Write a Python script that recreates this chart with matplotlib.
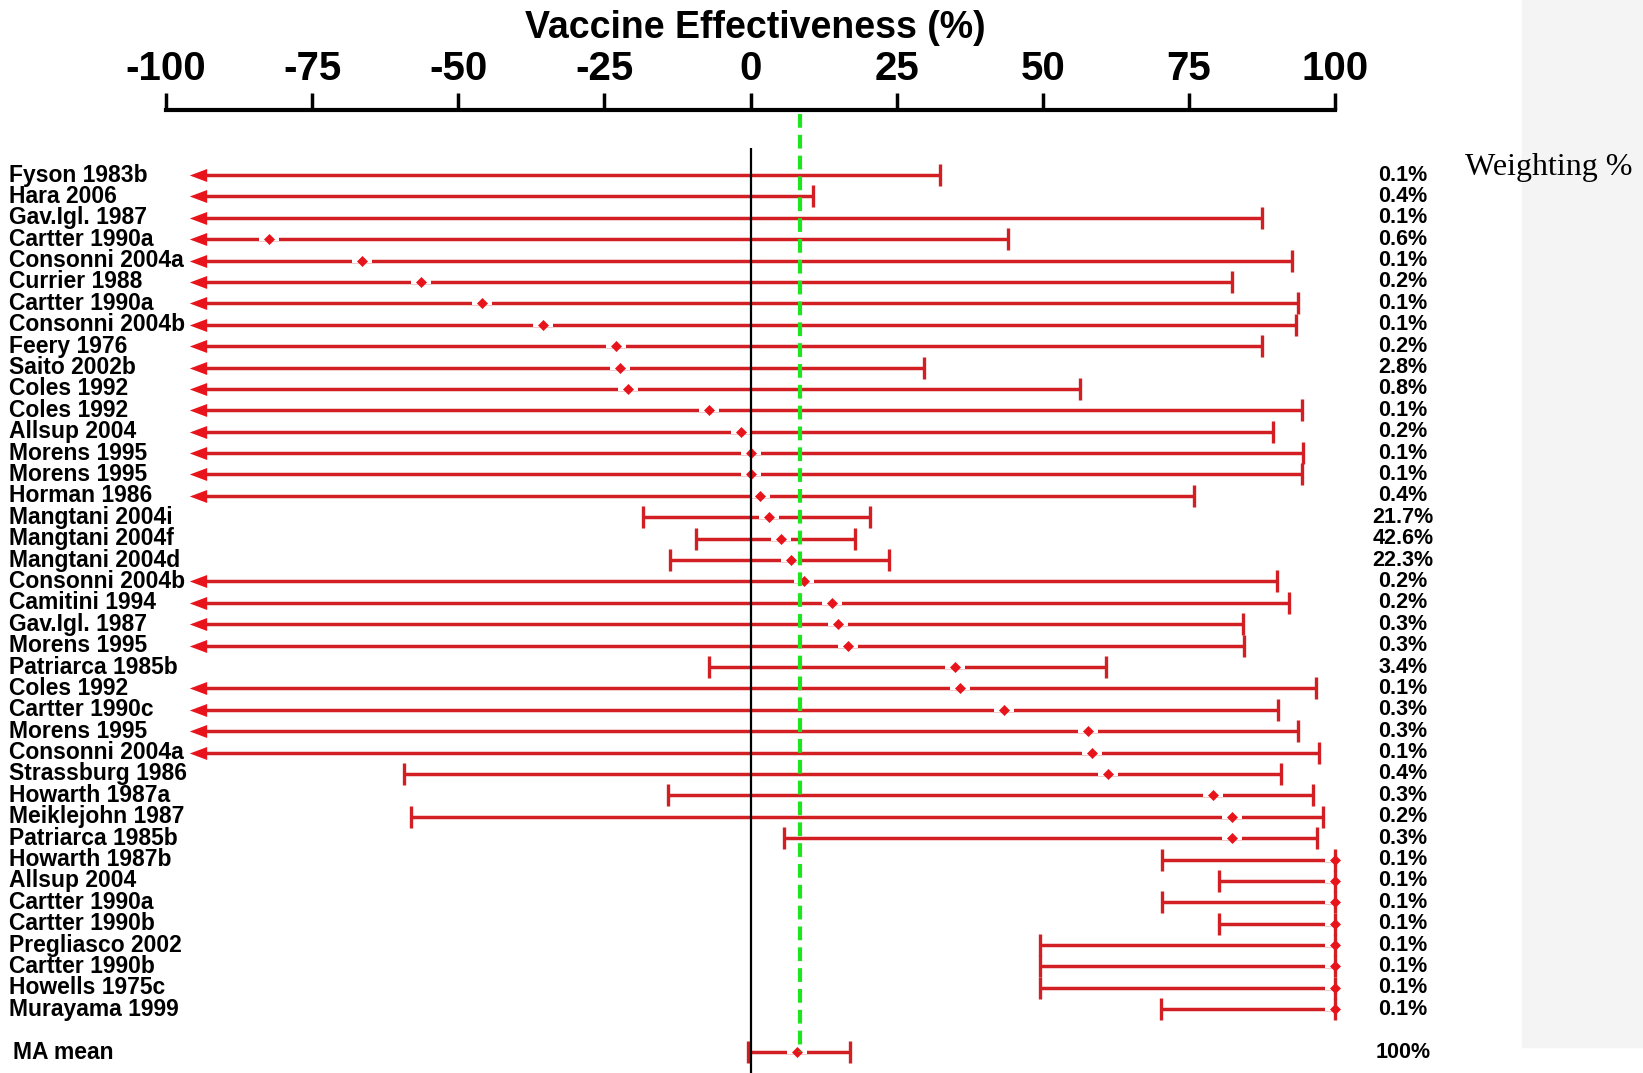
import numpy as np
import matplotlib
matplotlib.use("Agg")
import matplotlib.pyplot as plt
from matplotlib import transforms
from matplotlib.patches import Rectangle

plt.rcParams['font.family'] = ['Liberation Sans', 'DejaVu Sans']

# study rows, top to bottom
studies = ["Fyson 1983b", "Hara 2006", "Gav.Igl. 1987", "Cartter 1990a", "Consonni 2004a",
           "Currier 1988", "Cartter 1990a", "Consonni 2004b", "Feery 1976", "Saito 2002b",
           "Coles 1992", "Coles 1992", "Allsup 2004", "Morens 1995", "Morens 1995",
           "Horman 1986", "Mangtani 2004i", "Mangtani 2004f", "Mangtani 2004d", "Consonni 2004b",
           "Camitini 1994", "Gav.Igl. 1987", "Morens 1995", "Patriarca 1985b", "Coles 1992",
           "Cartter 1990c", "Morens 1995", "Consonni 2004a", "Strassburg 1986", "Howarth 1987a",
           "Meiklejohn 1987", "Patriarca 1985b", "Howarth 1987b", "Allsup 2004", "Cartter 1990a",
           "Cartter 1990b", "Pregliasco 2002", "Cartter 1990b", "Howells 1975c", "Murayama 1999"]

nan = np.nan
# point estimate (nan = below -100, off scale)
ve = [nan, nan, nan, -82.3, -66.4, -56.3, -45.9, -35.5, -23.0, -22.3,
      -21.0, -7.1, -1.7, 0.1, 0.0, 1.7, 3.1, 5.3, 7.0, 9.2,
      13.9, 14.9, 16.7, 35.0, 35.9, 43.4, 57.7, 58.5, 61.2, 79.1,
      82.4, 82.4, 100, 100, 100, 100, 100, 100, 100, 100]
# lower CI (nan = below -100, drawn as arrow)
ci_low = [nan, nan, nan, nan, nan, nan, nan, nan, nan, nan,
          nan, nan, nan, nan, nan, nan, -18.4, -9.4, -13.7, nan,
          nan, nan, nan, -7.1, nan, nan, nan, nan, -59.2, -14.1,
          -58.1, 5.8, 70.4, 80.1, 70.4, 80.1, 49.5, 49.5, 49.5, 70.3]
ci_high = [32.5, 10.7, 87.5, 44.1, 92.7, 82.4, 93.7, 93.4, 87.5, 29.6,
           56.3, 94.3, 89.4, 94.6, 94.3, 75.8, 20.5, 17.8, 23.7, 90.0,
           92.1, 84.3, 84.4, 60.8, 96.8, 90.3, 93.7, 97.3, 90.7, 96.2,
           98.0, 97.0, 100, 100, 100, 100, 100, 100, 100, 100]
weights = ["0.1%", "0.4%", "0.1%", "0.6%", "0.1%", "0.2%", "0.1%", "0.1%", "0.2%", "2.8%",
           "0.8%", "0.1%", "0.2%", "0.1%", "0.1%", "0.4%", "21.7%", "42.6%", "22.3%", "0.2%",
           "0.2%", "0.3%", "0.3%", "3.4%", "0.1%", "0.3%", "0.3%", "0.1%", "0.4%", "0.3%",
           "0.2%", "0.3%", "0.1%", "0.1%", "0.1%", "0.1%", "0.1%", "0.1%", "0.1%", "0.1%"]

ma_label = "MA mean"
ma_ve, ma_low, ma_high = 8.0, -0.4, 17.1
ma_weight = "100%"
pooled = 8.4

xticks = [-100, -75, -50, -25, 0, 25, 50, 75, 100]

RED = '#d21f24'
RED_PT = '#e8141c'
ARROW_X = -94.6

fig = plt.figure(figsize=(16.43, 10.73), dpi=100)
fig.patches.append(Rectangle((1522 / 1643, 1 - 1047 / 1073), 1, 1047 / 1073,
                             transform=fig.transFigure, color='#f4f4f4', zorder=0))

ax = fig.add_axes([166 / 1643, 0, 1169 / 1643, 963 / 1073])
ax.set_facecolor('none')
ax.set_xlim(-100, 100)
ax.set_ylim(42.98, -2.04)

for s in ['left', 'right', 'bottom']:
    ax.spines[s].set_visible(False)
ax.spines['top'].set_linewidth(3)
ax.xaxis.tick_top()
ax.set_xticks(xticks)
ax.set_xticklabels([str(t) for t in xticks], fontsize=29, fontweight='bold')
ax.tick_params(axis='x', direction='out', length=12, width=2.5, pad=4)
ax.set_yticks([])

gap_marker = [(-1, -0.16), (1, -0.16), (1, 0.16), (-1, 0.16)]
arrow_marker = [(-1, 0), (1, -0.75), (1, 0.75)]

rows = list(range(1, len(studies) + 1))
all_rows = rows + [42]
all_ve = ve + [ma_ve]
all_low = ci_low + [ma_low]
all_high = ci_high + [ma_high]

for y, p, lo, hi in zip(all_rows, all_ve, all_low, all_high):
    if np.isnan(lo):
        ax.hlines(y, ARROW_X, hi, color=RED, lw=2.5, zorder=2)
        ax.plot(ARROW_X, y, marker=arrow_marker, ms=12.5, color=RED_PT, mew=0, zorder=4)
    else:
        ax.hlines(y, lo, hi, color=RED, lw=2.5, zorder=2)
        ax.plot(lo, y, marker='|', ms=16.5, mew=2.4, color=RED, zorder=4)
    ax.plot(hi, y, marker='|', ms=16.5, mew=2.4, color=RED, zorder=4, clip_on=False)
    if not np.isnan(p):
        ax.plot(p, y, marker=gap_marker, ms=14.5, color='white', mew=0, zorder=3,
                clip_on=False)
        ax.plot(p, y, marker='D', ms=5.4, color=RED_PT, mew=0.5, zorder=5, clip_on=False)

ax.vlines(0, -0.27, 43, color='black', lw=1.6, zorder=6)
ax.vlines(pooled, -1.85, 42, color='#1ee61e', lw=3, linestyles=(0, (3.3, 1.7)), zorder=7)

# study labels and weights
trans = transforms.blended_transform_factory(fig.transFigure, ax.transData)
for y, name, w in zip(rows, studies, weights):
    ax.text(9 / 1643, y, name, transform=trans, fontsize=16.5, fontweight='bold',
            ha='left', va='center')
    ax.text(1403 / 1643, y, w, transform=trans, fontsize=15.5, fontweight='bold',
            ha='center', va='center')
ax.text(13 / 1643, 42, ma_label, transform=trans, fontsize=16.5, fontweight='bold',
        ha='left', va='center')
ax.text(1403 / 1643, 42, ma_weight, transform=trans, fontsize=15.5, fontweight='bold',
        ha='center', va='center')

fig.text(1465 / 1643, 1 - 168 / 1073, "Weighting %", fontsize=23,
         family=['Liberation Serif', 'DejaVu Serif'], ha='left', va='center')
fig.text(755 / 1643, 1 - 28 / 1073, "Vaccine Effectiveness (%)", fontsize=27,
         fontweight='bold', ha='center', va='center')

fig.savefig("out.png", dpi=100)
